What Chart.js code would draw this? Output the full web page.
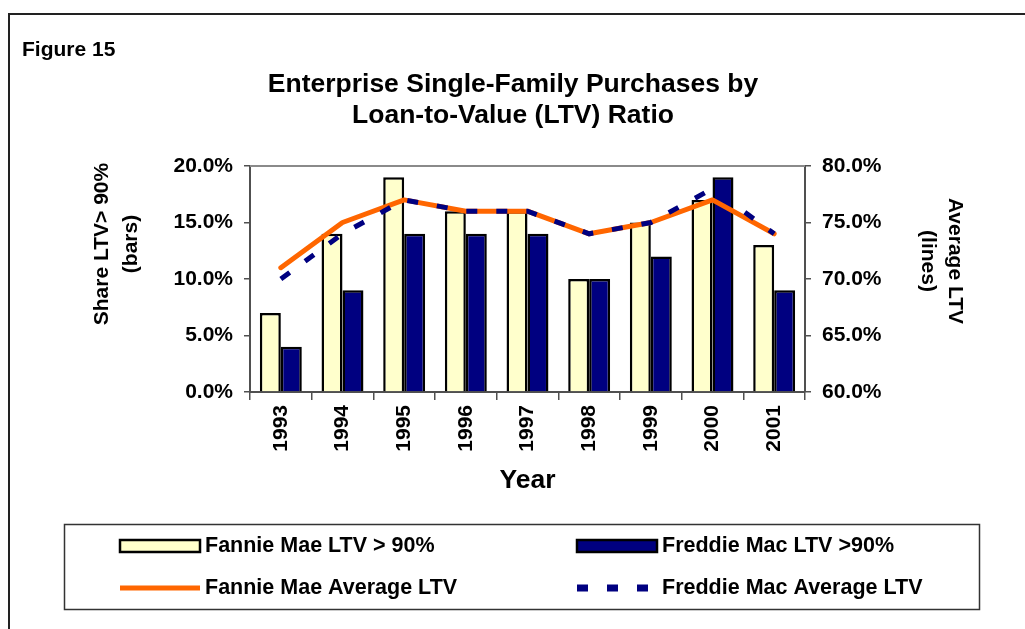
<!DOCTYPE html>
<html>
<head>
<meta charset="utf-8">
<script src="https://cdn.jsdelivr.net/npm/chart.js@4/dist/chart.umd.min.js"></script>
<style>
  html, body { margin: 0; padding: 0; background: #fff; }
  canvas { display: block; }
</style>
</head>
<body>
<canvas id="fig15" width="1025" height="629"></canvas>
<script>
// Figure 15: LTV > 90% shares (bars, left axis) and average LTV (lines, right axis)
const years = ["1993", "1994", "1995", "1996", "1997", "1998", "1999", "2000", "2001"];
const fannieShare = [7, 14, 19, 16, 16, 10, 15, 17, 13];
const freddieShare = [4, 9, 14, 14, 14, 10, 12, 19, 9];
const fannieAvgLtv = [71, 75, 77, 76, 76, 74, 75, 77, 74];
const freddieAvgLtv = [70, 74, 77, 76, 76, 74, 75, 78, 74];

const FONT = "'Liberation Sans', Arial, Helvetica, sans-serif";
const AXIS = "#505050";
const pct = (v) => v.toFixed(1) + "%";

// frame, titles, axis titles and the boxed two-column legend
const decor = {
  id: "decor",
  afterDraw(chart) {
    const ctx = chart.ctx;
    const area = chart.chartArea;
    const ds = chart.data.datasets;
    ctx.save();

    // outer figure frame
    ctx.strokeStyle = "#222";
    ctx.lineWidth = 2;
    ctx.beginPath();
    ctx.moveTo(1025, 14);
    ctx.lineTo(9, 14);
    ctx.lineTo(9, 629);
    ctx.stroke();

    // plot-area top edge
    ctx.strokeStyle = "#8a8a8a";
    ctx.lineWidth = 2;
    ctx.beginPath();
    ctx.moveTo(area.left, area.top);
    ctx.lineTo(area.right, area.top);
    ctx.stroke();

    ctx.fillStyle = "#000";
    ctx.textBaseline = "middle";

    ctx.font = "bold 21px " + FONT;
    ctx.textAlign = "left";
    ctx.fillText("Figure 15", 22, 50);

    ctx.font = "bold 26.5px " + FONT;
    ctx.textAlign = "center";
    ctx.fillText("Enterprise Single-Family Purchases by", 513, 85);
    ctx.fillText("Loan-to-Value (LTV) Ratio", 513, 116);
    ctx.fillText("Year", (area.left + area.right) / 2, 481);

    ctx.font = "bold 21px " + FONT;
    const vtext = (txt, x, y, ang) => {
      ctx.save();
      ctx.translate(x, y);
      ctx.rotate(ang);
      ctx.fillText(txt, 0, 0);
      ctx.restore();
    };
    vtext("Share LTV> 90%", 102, 244, -Math.PI / 2);
    vtext("(bars)", 131, 244, -Math.PI / 2);
    vtext("Average LTV", 955, 261, Math.PI / 2);
    vtext("(lines)", 928, 261, Math.PI / 2);

    // legend
    ctx.strokeStyle = "#333";
    ctx.lineWidth = 1.5;
    ctx.strokeRect(64.5, 524.5, 915, 85);

    const cols = [120, 577];
    const rows = [546, 588];
    ctx.textAlign = "left";
    ctx.font = "bold 21.5px " + FONT;
    ds.forEach((d, i) => {
      const x = cols[i % 2];
      const y = rows[Math.floor(i / 2)];
      if (d.type === "line") {
        ctx.strokeStyle = d.borderColor;
        ctx.lineWidth = d.borderDash ? 7 : 5;
        ctx.setLineDash(d.borderDash ? [11, 19] : []);
        ctx.lineCap = "butt";
        ctx.beginPath();
        ctx.moveTo(x, y);
        ctx.lineTo(x + 80, y);
        ctx.stroke();
        ctx.setLineDash([]);
      } else {
        ctx.fillStyle = d.backgroundColor;
        ctx.fillRect(x, y - 6, 80, 12);
        ctx.strokeStyle = "#000";
        ctx.lineWidth = 2.5;
        ctx.strokeRect(x, y - 6, 80, 12);
      }
      ctx.fillStyle = "#000";
      ctx.fillText(d.label, x + 85, y);
    });

    ctx.restore();
  },
};

new Chart(document.getElementById("fig15").getContext("2d"), {
  data: {
    labels: years,
    datasets: [
      {
        type: "bar", label: "Fannie Mae LTV > 90%", data: fannieShare, yAxisID: "y",
        backgroundColor: "#FFFFCC", borderColor: "#000", borderWidth: 2.5,
        categoryPercentage: 0.68, barPercentage: 1.0, order: 3,
      },
      {
        type: "bar", label: "Freddie Mac LTV >90%", data: freddieShare, yAxisID: "y",
        backgroundColor: "#000080", borderColor: "#000", borderWidth: 2.5,
        categoryPercentage: 0.68, barPercentage: 1.0, order: 3,
      },
      {
        type: "line", label: "Fannie Mae Average LTV", data: fannieAvgLtv, yAxisID: "y1",
        borderColor: "#FF6600", borderWidth: 5, pointRadius: 0, tension: 0,
        borderCapStyle: "round", borderJoinStyle: "round", order: 2,
      },
      {
        type: "line", label: "Freddie Mac Average LTV", data: freddieAvgLtv, yAxisID: "y1",
        borderColor: "#000080", borderWidth: 5, borderDash: [11, 19], pointRadius: 0,
        tension: 0, order: 1,
      },
    ],
  },
  options: {
    responsive: false,
    animation: false,
    layout: { padding: { top: 166, left: 0, right: 0, bottom: 0 } },
    plugins: { legend: { display: false }, title: { display: false }, tooltip: { enabled: false } },
    scales: {
      x: {
        offset: true,
        afterFit: (s) => { s.height = 237; },
        grid: { drawOnChartArea: false, offset: true, tickLength: 8, color: AXIS, lineWidth: 1.5 },
        border: { color: AXIS, width: 2 },
        ticks: {
          autoSkip: false, minRotation: 90, maxRotation: 90, padding: 5, color: "#000",
          font: { family: FONT, size: 21, weight: "bold" },
        },
      },
      y: {
        position: "left", min: 0, max: 20,
        afterFit: (s) => { s.width = 250; },
        grid: { drawOnChartArea: false, tickLength: 6, color: AXIS, lineWidth: 1.5 },
        border: { color: AXIS, width: 2 },
        ticks: {
          stepSize: 5, padding: 11, color: "#000", callback: pct,
          font: { family: FONT, size: 21, weight: "bold" },
        },
      },
      y1: {
        position: "right", min: 60, max: 80,
        afterFit: (s) => { s.width = 220; },
        grid: { drawOnChartArea: false, tickLength: 6, color: AXIS, lineWidth: 1.5 },
        border: { color: AXIS, width: 2 },
        ticks: {
          stepSize: 5, padding: 11, color: "#000", callback: pct,
          font: { family: FONT, size: 21, weight: "bold" },
        },
      },
    },
  },
  plugins: [decor],
});
</script>
</body>
</html>
